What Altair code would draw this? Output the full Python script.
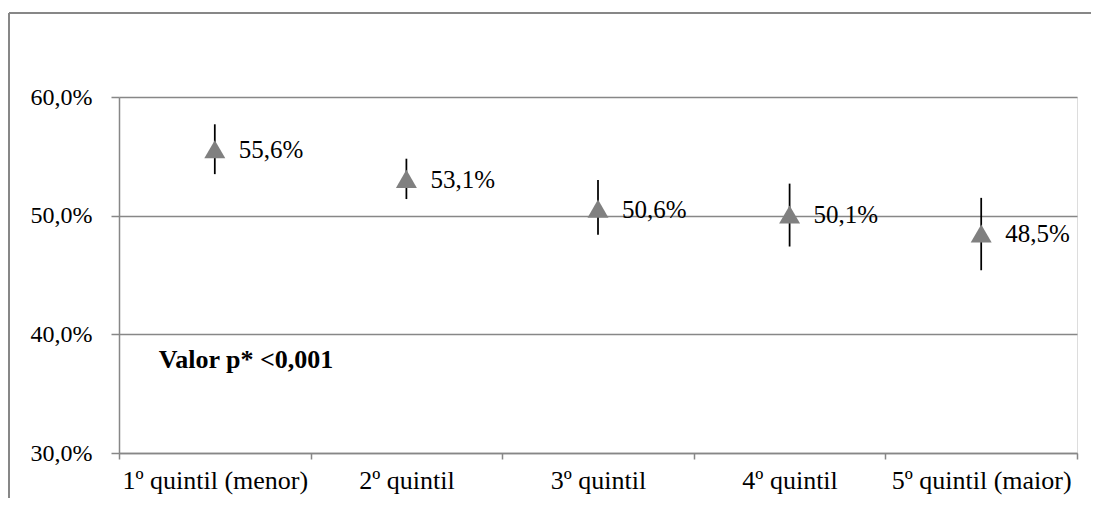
import altair as alt
import pandas as pd

categories = ["1º quintil (menor)", "2º quintil", "3º quintil", "4º quintil", "5º quintil (maior)"]
values = [55.6, 53.1, 50.6, 50.1, 48.5]
lower = [53.5, 51.4, 48.4, 47.4, 45.4]
upper = [57.7, 54.8, 53.0, 52.7, 51.5]
labels = ["55,6%", "53,1%", "50,6%", "50,1%", "48,5%"]
y_ticks = [30, 40, 50, 60]
p_text = "Valor p* <0,001"
p_value_y = 37.2

FONT = "Liberation Serif"
GRAY = "#878787"

df = pd.DataFrame({"cat": categories, "value": values, "lo": lower, "hi": upper, "label": labels})
ann = pd.DataFrame({"cat": [categories[0]], "y": [p_value_y], "text": [p_text]})

xscale = alt.Scale(type="band", domain=categories, paddingInner=0, paddingOuter=0)
yscale = alt.Scale(domain=[30, 60], nice=False, zero=False)

x_enc = alt.X(
    "cat:N", sort=categories, scale=xscale,
    axis=alt.Axis(
        title=None, labelAngle=0, labelFont=FONT, labelFontSize=26, labelColor="black",
        labelPadding=8, labelLimit=400, labelOverlap=False,
        tickBand="extent", tickSize=6, tickColor=GRAY, tickWidth=1.5,
        domainColor=GRAY, domainWidth=1.5, grid=False,
    ),
)
y_enc = alt.Y(
    "value:Q", scale=yscale,
    axis=alt.Axis(
        title=None, values=y_ticks, labelFont=FONT, labelFontSize=24, labelColor="black",
        labelPadding=19, tickSize=8, tickColor=GRAY, tickWidth=1.5,
        domainColor=GRAY, domainWidth=1.5, grid=True, gridColor=GRAY, gridWidth=1.5,
        labelExpr="replace(format(datum.value, '.1f'), '.', ',') + '%'",
    ),
)

base = alt.Chart(df)

bars = base.mark_rule(color="black", strokeWidth=1.75).encode(
    x=x_enc, y=alt.Y("lo:Q", scale=yscale), y2="hi:Q"
)
points = base.mark_point(shape="triangle-up", filled=True, size=440, color="#808080", opacity=1).encode(
    x=x_enc, y=y_enc
)
texts = base.mark_text(align="left", baseline="middle", dx=24, dy=1, fontSize=25, font=FONT, color="black").encode(
    x=x_enc, y=alt.Y("value:Q", scale=yscale), text="label:N"
)
annotation = alt.Chart(ann).mark_text(
    align="left", baseline="alphabetic", dx=-56, fontSize=26, font=FONT, fontWeight="bold", color="black"
).encode(x=alt.X("cat:N", scale=xscale), y=alt.Y("y:Q", scale=yscale), text="text:N")

one = pd.DataFrame({"a": [0]})
border_top = alt.Chart(one).mark_rule(stroke=GRAY, strokeWidth=2).encode(
    x=alt.value(-110), x2=alt.value(1100), y=alt.value(-84)
)
border_left = alt.Chart(one).mark_rule(stroke=GRAY, strokeWidth=2).encode(
    x=alt.value(-110), y=alt.value(-84), y2=alt.value(600)
)

chart = alt.layer(border_top, border_left, bars, points, texts, annotation).properties(
    width=958, height=356,
    autosize=alt.AutoSizeParams(type="none"),
    padding={"left": 111, "top": 89, "right": 14, "bottom": 45},
).configure_view(stroke=None).configure(font=FONT)

chart.save("out.html", embed_options={"renderer": "svg", "actions": False})
